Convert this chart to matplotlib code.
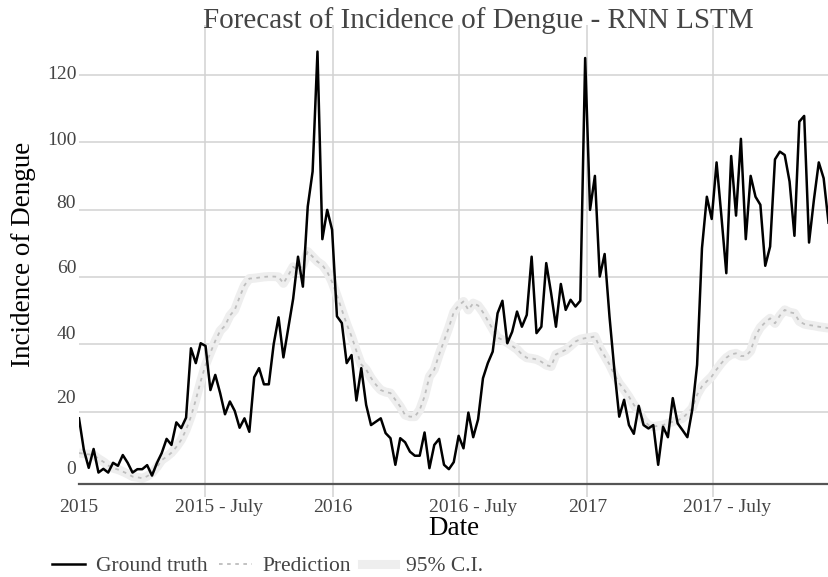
import numpy as np
import pandas as pd
import matplotlib
matplotlib.use('Agg')
import matplotlib.pyplot as plt
import matplotlib.transforms as mtransforms
from matplotlib.lines import Line2D

plt.rcParams['font.family'] = ['Liberation Serif', 'DejaVu Serif']

# weekly incidence, first week of 2015 onward
ground_truth = [
    18.0, 8.6, 3.3, 8.9, 1.9, 3.0, 1.9, 4.8, 3.9, 7.1,
    4.8, 1.9, 2.9, 2.9, 4.1, 1.0, 4.7, 7.7, 11.9, 10.1,
    16.8, 15.1, 18.2, 38.8, 34.4, 40.3, 39.5, 26.4, 30.9, 25.5,
    19.2, 23.0, 20.2, 15.2, 18.0, 14.0, 30.2, 32.9, 28.1, 28.1,
    40.0, 48.0, 36.1, 44.9, 53.5, 66.0, 57.1, 80.9, 91.3, 126.9,
    71.2, 79.9, 74.0, 48.3, 46.3, 34.4, 36.8, 23.3, 32.9, 22.0,
    16.0, 17.0, 18.0, 13.6, 12.1, 4.2, 12.1, 10.9, 8.1, 6.9,
    6.9, 13.8, 3.2, 10.1, 11.9, 4.2, 2.9, 5.0, 12.8, 9.1,
    19.7, 12.4, 17.7, 29.9, 34.4, 37.8, 49.2, 52.9, 40.3, 43.7,
    49.7, 45.2, 48.7, 66.0, 43.3, 45.2, 64.1, 55.2, 45.2, 57.9,
    50.2, 53.2, 51.2, 52.9, 125.0, 79.9, 90.0, 60.1, 66.8, 48.2,
    32.4, 18.5, 23.5, 16.0, 13.4, 21.7, 16.0, 15.0, 16.0, 4.2,
    15.5, 12.4, 24.0, 16.5, 14.5, 12.4, 20.5, 33.9, 68.5, 83.8,
    77.2, 94.0, 77.9, 61.1, 95.9, 78.2, 101.0, 71.2, 90.0, 83.8,
    81.4, 63.3, 69.0, 94.9, 97.2, 96.2, 88.3, 72.2, 106.1, 107.8,
    70.2, 82.9, 94.0, 89.3, 76.1,
]

# LSTM forecast for the same weeks
prediction = [
    7.7, 7.5, 7.3, 7.1, 6.0, 5.1, 4.0, 3.2, 2.8, 2.2,
    1.5, 0.7, 0.5, 0.2, 0.8, 1.8, 3.5, 5.6, 6.6, 7.8,
    9.5, 11.6, 14.6, 18.5, 23.5, 29.0, 33.9, 37.5, 41.0, 44.0,
    45.5, 48.5, 50.2, 54.0, 57.5, 59.5, 59.6, 59.8, 60.0, 60.1,
    60.1, 60.0, 58.1, 60.5, 63.0, 62.0, 63.5, 67.5, 66.0, 64.5,
    63.5, 61.5, 58.5, 54.5, 50.2, 46.0, 42.3, 38.0, 34.0, 32.5,
    30.0, 28.0, 26.4, 25.8, 25.5, 23.5, 21.5, 19.0, 18.5, 18.5,
    20.5, 24.5, 30.4, 32.5, 37.0, 41.0, 45.0, 49.5, 51.5, 52.7,
    50.2, 52.2, 51.5, 49.5, 47.0, 44.5, 42.0, 41.3, 40.5, 39.5,
    38.5, 37.0, 36.0, 35.8, 35.5, 34.8, 33.8, 33.4, 37.0, 37.6,
    38.3, 39.5, 40.8, 41.5, 41.8, 42.0, 42.3, 39.0, 36.5, 34.0,
    31.0, 28.4, 26.5, 24.4, 22.0, 20.0, 17.5, 16.0, 15.5, 15.8,
    16.0, 16.5, 17.0, 17.5, 18.0, 19.5, 21.0, 25.0, 27.5, 29.0,
    30.4, 32.5, 34.4, 36.0, 37.0, 37.3, 36.5, 36.5, 38.0, 42.5,
    45.0, 46.5, 47.7, 46.2, 48.5, 50.2, 49.5, 49.2, 46.8, 46.0,
    45.7, 45.5, 45.2, 45.0, 44.8,
]

tick_dates = ['2015-01-01', '2015-07-01', '2016-01-01', '2016-07-01', '2017-01-01', '2017-07-01']
tick_labels = ['2015', '2015 - July', '2016', '2016 - July', '2017', '2017 - July']
y_ticks = [0, 20, 40, 60, 80, 100, 120]

dates = pd.date_range('2015-01-01', periods=len(ground_truth), freq='7D')

W, H = 829, 577
fig = plt.figure(figsize=(W / 100, H / 100), dpi=100)
ax = fig.add_axes([79 / W, (H - 484) / H, 750 / W, (484 - 25) / H])

# confidence band drawn as a wide pale stroke under the forecast
ax.plot(dates, prediction, color='#eeeeee', lw=6.5, solid_joinstyle='round',
        solid_capstyle='butt', zorder=2)
ax.plot(dates, prediction, color='#bdbdbd', lw=1.3, ls=(0, (2, 2.5)), zorder=3)
ax.plot(dates, ground_truth, color='black', lw=1.8, zorder=4)

ax.set_xlim(pd.Timestamp('2015-01-01'), dates[0] + pd.Timedelta(days=7 * 154.1))
ax.set_ylim(-1.5, 134.8)

ax.set_xticks(pd.to_datetime(tick_dates))
ax.set_xticklabels(tick_labels)
ax.set_yticks(y_ticks)
ax.grid(True, color='#d2d2d2', lw=1.1, zorder=0)
ax.set_axisbelow(True)

# no grid line on the left edge or along the zero line
ax.xaxis.get_gridlines()[0].set_visible(False)
ax.xaxis.get_major_ticks()[0].tick1line.set_visible(False)
ax.yaxis.get_gridlines()[0].set_visible(False)

for side in ['top', 'right', 'left']:
    ax.spines[side].set_visible(False)
ax.spines['bottom'].set_color('#555555')
ax.spines['bottom'].set_linewidth(1.6)

ax.tick_params(axis='x', length=9, width=1.1, color='#d2d2d2', labelsize=14,
               labelcolor='#444444', pad=2)
ax.tick_params(axis='y', length=0, labelsize=14, labelcolor='#444444', pad=2)

# nudge tick labels: month labels sit right of their tick, y labels ride above the grid
for lab in ax.get_xticklabels():
    if 'July' in lab.get_text():
        lab.set_transform(lab.get_transform() +
                          mtransforms.ScaledTranslation(14 / 100, 0, fig.dpi_scale_trans))
y_shift = [11, 15, 12, 10, 8, 4, 2]
for lab, dy in zip(ax.get_yticklabels(), y_shift):
    lab.set_transform(lab.get_transform() +
                      mtransforms.ScaledTranslation(0, dy / 100, fig.dpi_scale_trans))

ax.set_xlabel('Date', fontsize=19.5, color='black', labelpad=0)
ax.set_ylabel('Incidence of Dengue', fontsize=19.5, color='black', labelpad=8)

fig.text(478 / W, 1 - 28 / H, 'Forecast of Incidence of Dengue - RNN LSTM',
         ha='center', va='baseline', fontsize=21, color='#444444')

handles = [
    Line2D([], [], color='black', lw=1.8),
    Line2D([], [], color='#bdbdbd', lw=1.3, ls=(0, (2, 2.5))),
    Line2D([], [], color='#eeeeee', lw=6.5),
]
leg = fig.legend(handles, ['Ground truth', 'Prediction', '95% C.I.'], ncol=3,
                 loc='center left', bbox_to_anchor=(52 / W, 1 - 566 / H),
                 frameon=False, fontsize=15.5, handlelength=1.55, handletextpad=0.5,
                 columnspacing=0.5, borderpad=0, borderaxespad=0)
for t in leg.get_texts():
    t.set_color('#444444')

fig.savefig('out.png', dpi=100)
